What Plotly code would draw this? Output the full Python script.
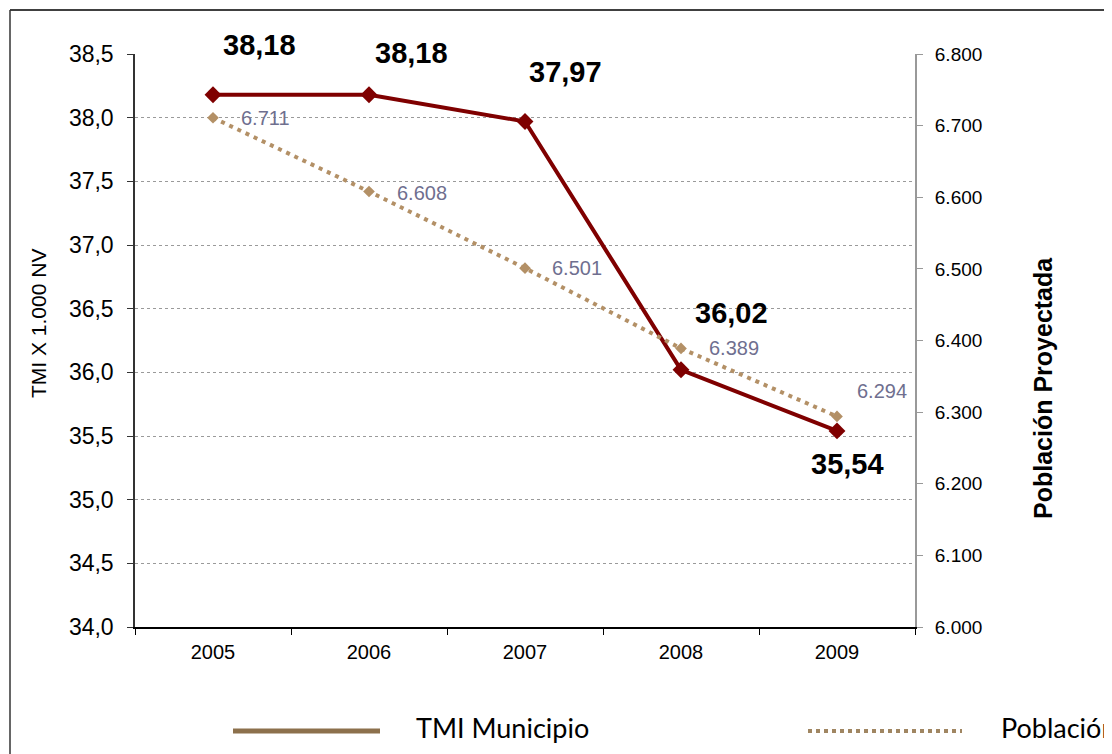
import plotly.graph_objects as go

years = ["2005", "2006", "2007", "2008", "2009"]
tmi = [38.18, 38.18, 37.97, 36.02, 35.54]
poblacion = [6711, 6608, 6501, 6389, 6294]
left_ticks = [34.0, 34.5, 35.0, 35.5, 36.0, 36.5, 37.0, 37.5, 38.0, 38.5]
right_ticks = [6000, 6100, 6200, 6300, 6400, 6500, 6600, 6700, 6800]

# label offsets (pixels) for annotation placement
tmi_off = [(46, 50), (42, 42), (40, 49), (50, 57), (10, -33)]
pob_off = [(52, 0), (53, -1), (52, 0), (53, 0), (45, 25)]

# page body has an 8px margin; work in screen pixels and convert
OFF = 8
W, H = 1112 - OFF, 754 - OFF
L, T = 135 - OFF, 54 - OFF
PW, PH = 780, 573
R, B = W - L - PW, H - T - PH


def px(x):
    return (x - OFF - L) / PW


def py(y):
    return (H - B - (y - OFF)) / PH


def fmt_tmi(v):
    return f"{v:.2f}".replace(".", ",")


def fmt_pob(v):
    return f"{v:,}".replace(",", ".")


fig = go.Figure()
fig.add_trace(go.Scatter(
    x=years, y=poblacion, yaxis="y2", mode="lines+markers", name="Población Proyectada",
    line=dict(color="#b39066", width=4, dash="4px,5px"),
    marker=dict(symbol="diamond", size=9, color="#b39066"),
    showlegend=False,
))
fig.add_trace(go.Scatter(
    x=years, y=tmi, mode="lines+markers", name="TMI Municipio",
    line=dict(color="#7f0000", width=4),
    marker=dict(symbol="diamond", size=13, color="#7f0000"),
    showlegend=False,
))

annotations = []
for i, v in enumerate(tmi):
    annotations.append(dict(
        x=i, y=v, xref="x", yref="y", text="<b>" + fmt_tmi(v) + "</b>", showarrow=False,
        xshift=tmi_off[i][0], yshift=tmi_off[i][1],
        font=dict(family="Arial, Liberation Sans", size=29, color="#000000"),
        xanchor="center", yanchor="middle",
    ))
for i, v in enumerate(poblacion):
    annotations.append(dict(
        x=i, y=v, xref="x", yref="y2", text=fmt_pob(v), showarrow=False,
        xshift=pob_off[i][0], yshift=pob_off[i][1],
        font=dict(family="Arial, Liberation Sans", size=20, color="#6f6f8f"),
        xanchor="center", yanchor="middle",
    ))

# axis titles
annotations.append(dict(
    x=px(38), y=py(324), xref="paper", yref="paper", text="TMI X 1.000 NV",
    textangle=-90, showarrow=False, xanchor="center", yanchor="middle",
    font=dict(family="Arial, Liberation Sans", size=21, color="#000000"),
))
annotations.append(dict(
    x=px(1043), y=py(388), xref="paper", yref="paper", text="<b>Población Proyectada</b>",
    textangle=-90, showarrow=False, xanchor="center", yanchor="middle",
    font=dict(family="Arial, Liberation Sans", size=25, color="#000000"),
))
# legend texts
annotations.append(dict(
    x=px(414), y=py(727), xref="paper", yref="paper", text="TMI Municipio",
    showarrow=False, xanchor="left", yanchor="middle",
    font=dict(family="Lato, Roboto, Arial", size=27, color="#000000"),
))
annotations.append(dict(
    x=px(999), y=py(727), xref="paper", yref="paper", text="Población Proyectada",
    showarrow=False, xanchor="left", yanchor="middle",
    font=dict(family="Lato, Roboto, Arial", size=27, color="#000000"),
))

shapes = [
    # outer border
    dict(type="line", xref="paper", yref="paper", x0=px(10), x1=px(1105), y0=py(10), y1=py(10),
         line=dict(color="#000000", width=1.5)),
    dict(type="line", xref="paper", yref="paper", x0=px(10), x1=px(10), y0=py(10), y1=py(760),
         line=dict(color="#333333", width=1.5)),
    dict(type="line", xref="paper", yref="paper", x0=px(1105), x1=px(1105), y0=py(10), y1=py(697),
         line=dict(color="#333333", width=1.5)),
    # legend lines
    dict(type="line", xref="paper", yref="paper", x0=px(233), x1=px(380), y0=py(731), y1=py(731),
         line=dict(color="#8c704c", width=5)),
    dict(type="line", xref="paper", yref="paper", x0=px(808), x1=px(962), y0=py(731), y1=py(731),
         line=dict(color="#a08662", width=4, dash="dot")),
]

fig.update_layout(
    width=W, height=H,
    margin=dict(l=L, r=R, t=T, b=B, pad=0),
    paper_bgcolor="white", plot_bgcolor="white",
    separators=",.",
    showlegend=False,
    xaxis=dict(
        type="category", categoryorder="array", categoryarray=years,
        tickson="boundaries", ticks="outside", ticklen=6, tickcolor="#000000",
        showline=True, linecolor="#000000", linewidth=1.5,
        showgrid=False, zeroline=False, ticklabelstandoff=6,
        tickfont=dict(family="Arial, Liberation Sans", size=20, color="#000000"),
        range=[-0.5, 4.5],
    ),
    yaxis=dict(
        range=[34.0, 38.5], tickvals=left_ticks, tickformat=".1f",
        ticks="outside", ticklen=6, tickcolor="#333333",
        showline=True, linecolor="#333333", linewidth=1.5,
        showgrid=True, gridcolor="#9a9a9a", griddash="dot", gridwidth=1,
        zeroline=False, ticklabelstandoff=9,
        tickfont=dict(family="Arial, Liberation Sans", size=23, color="#000000"),
    ),
    yaxis2=dict(
        range=[6000, 6800], tickvals=right_ticks, tickformat=",d",
        overlaying="y", side="right",
        ticks="outside", ticklen=6, tickcolor="#999999",
        showline=True, linecolor="#999999", linewidth=2,
        showgrid=False, zeroline=False, ticklabelstandoff=8,
        tickfont=dict(family="Arial, Liberation Sans", size=19, color="#000000"),
    ),
    annotations=annotations,
    shapes=shapes,
)

fig.write_html("out.html")
